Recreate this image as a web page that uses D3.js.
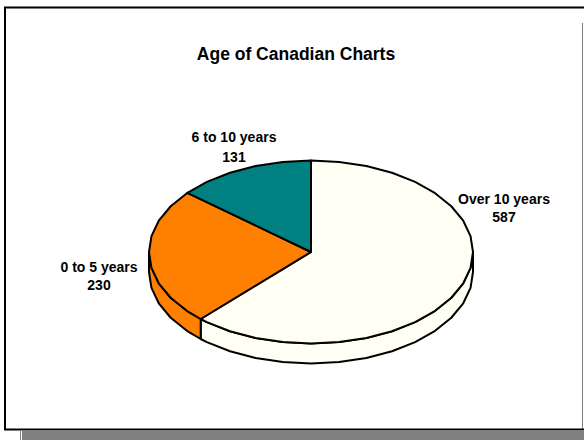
<!DOCTYPE html>
<html>
<head>
<meta charset="utf-8">
<script src="https://cdn.jsdelivr.net/npm/d3@7/dist/d3.min.js"></script>
<style>
  html, body { margin: 0; padding: 0; background: #fff; }
  svg { display: block; }
  text { font-family: "Liberation Sans", Arial, sans-serif; font-weight: bold; fill: #000; }
</style>
</head>
<body>
<script>
// Chart data
const categories = ["Over 10 years", "0 to 5 years", "6 to 10 years"];
const counts = [587, 230, 131];
const sliceColors = ["#FFFFF3", "#FF8000", "#008080"];
const title = "Age of Canadian Charts";

// Layout
const W = 584, H = 440;
const cx = 311, cy = 252, rx = 162, ry = 91.5, depth = 20;
const stepAngle = Math.PI / 18;

// Label anchors (centre x, first baseline, second baseline)
const labelAnchor = {
  "Over 10 years": [504, 204, 222],
  "0 to 5 years": [99, 272, 290],
  "6 to 10 years": [234, 142, 162]
};

const svg = d3.select("body").append("svg")
  .attr("width", W).attr("height", H);

// Frame with drop shadow
svg.append("rect").attr("x", 22).attr("y", 431).attr("width", W - 22).attr("height", 9).attr("fill", "#808080");
svg.append("line").attr("x1", 20.5).attr("x2", 20.5).attr("y1", 431).attr("y2", 440).attr("stroke", "#808080").attr("stroke-width", 1);
svg.append("line").attr("x1", 582.5).attr("x2", 582.5).attr("y1", 23).attr("y2", 429).attr("stroke", "#808080").attr("stroke-width", 1);
svg.append("path")
  .attr("d", `M${W},7.5 H5 V429.5 H${W}`)
  .attr("fill", "none").attr("stroke", "#000").attr("stroke-width", 2);

// Title
svg.append("text")
  .attr("x", 296).attr("y", 60)
  .attr("text-anchor", "middle")
  .attr("font-size", "17.5px")
  .text(title);

// Pie angles, clockwise from 12 o'clock
const pie = d3.pie().sort(null).value(d => d.value).startAngle(0).endAngle(2 * Math.PI);
const slices = pie(categories.map((c, i) => ({ name: c, value: counts[i], color: sliceColors[i] })));

const pt = (a, dy = 0) => [cx + rx * Math.sin(a), cy - ry * Math.cos(a) + dy];
const arcAngles = (a0, a1) => {
  const out = [a0];
  let a = Math.ceil(a0 / stepAngle + 1e-9) * stepAngle;
  while (a < a1 - 1e-9) { out.push(a); a += stepAngle; }
  out.push(a1);
  return out;
};
const line = d3.line();

// Side walls on the front half of the disc
const gSide = svg.append("g");
slices.forEach(s => {
  const s0 = Math.max(s.startAngle, Math.PI / 2);
  const s1 = Math.min(s.endAngle, 3 * Math.PI / 2);
  if (s0 >= s1) return;
  const angs = arcAngles(s0, s1);
  const pts = angs.map(a => pt(a)).concat(angs.slice().reverse().map(a => pt(a, depth)));
  gSide.append("path")
    .attr("d", line(pts) + "Z")
    .attr("fill", s.data.color)
    .attr("stroke", "#000").attr("stroke-width", 2).attr("stroke-linejoin", "round");
});

// Top faces
const gTop = svg.append("g");
slices.forEach(s => {
  const pts = [[cx, cy]].concat(arcAngles(s.startAngle, s.endAngle).map(a => pt(a)));
  gTop.append("path")
    .attr("d", line(pts) + "Z")
    .attr("fill", s.data.color)
    .attr("stroke", "#000").attr("stroke-width", 2).attr("stroke-linejoin", "round");
});

// Data labels
const gLab = svg.append("g");
slices.forEach(s => {
  const [x, y1, y2] = labelAnchor[s.data.name];
  gLab.append("text").attr("x", x).attr("y", y1).attr("text-anchor", "middle")
    .attr("font-size", "14px").text(s.data.name);
  gLab.append("text").attr("x", x).attr("y", y2).attr("text-anchor", "middle")
    .attr("font-size", "14px").text(s.data.value);
});
</script>
</body>
</html>
